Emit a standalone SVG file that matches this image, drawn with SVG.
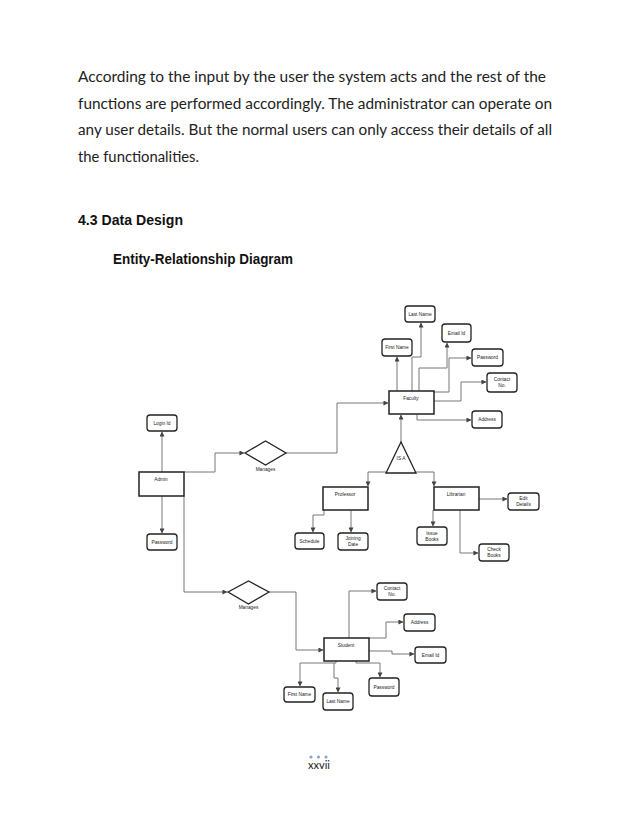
<svg xmlns="http://www.w3.org/2000/svg" width="638" height="826" viewBox="0 0 638 826">
<defs>
<marker id="arr" viewBox="0 0 6 6" refX="5.5" refY="3" markerWidth="5" markerHeight="5" orient="auto" markerUnits="userSpaceOnUse">
<path d="M0,0 L6,3 L0,6 z" fill="#444"/>
</marker>
</defs>
<style>
.body{font-family:Lato,"Noto Sans",sans-serif;font-size:15.5px;fill:#222}
.h{font-family:"Liberation Sans",Arial,sans-serif;font-weight:bold;font-size:15px;fill:#111}
.ent{fill:#fff;stroke:#222;stroke-width:1.5}
.att{fill:#fff;stroke:#222;stroke-width:1.3}
.rel{fill:#fff;stroke:#222;stroke-width:1.3}
.lbl{font-family:"Liberation Sans",Arial,sans-serif;font-size:4.8px;fill:#222;text-anchor:middle}
.c{fill:none;stroke:#777;stroke-width:1}
.ca{fill:none;stroke:#777;stroke-width:1;marker-end:url(#arr)}
</style>
<rect width="638" height="826" fill="#fff"/>

<g id="text">
<text class="body" x="78" y="82" textLength="468" lengthAdjust="spacingAndGlyphs">According to the input by the user the system acts and the rest of the</text>
<text class="body" x="78" y="109" textLength="474" lengthAdjust="spacingAndGlyphs">functions are performed accordingly. The administrator can operate on</text>
<text class="body" x="78" y="135" textLength="474" lengthAdjust="spacingAndGlyphs">any user details. But the normal users can only access their details of all</text>
<text class="body" x="78" y="162" textLength="121" lengthAdjust="spacingAndGlyphs">the functionalities.</text>
<text class="h" x="78" y="225" textLength="105" lengthAdjust="spacingAndGlyphs">4.3  Data Design</text>
<text class="h" x="113" y="264" textLength="180" lengthAdjust="spacingAndGlyphs">Entity-Relationship Diagram</text>
</g>

<g id="connectors">
<path class="ca" d="M397,391 V357"/>
<path class="ca" d="M412,391 V357 H421 V323"/>
<path class="ca" d="M419,391 V368 H447 V343"/>
<path class="ca" d="M434,392 H449 V358 H471"/>
<path class="ca" d="M434,401 H461 V382 H486"/>
<path class="ca" d="M417,414 V420 H471"/>
<path class="ca" d="M286,453 H337 V403 H388"/>
<path class="ca" d="M184,472 H215 V453 H244"/>
<path class="ca" d="M162,472 V432"/>
<path class="ca" d="M162,496 V533"/>
<path class="ca" d="M184,496 V592 H227"/>
<path class="ca" d="M269,592 H296 V650 H323"/>
<path class="ca" d="M401,442 V415"/>
<path class="ca" d="M386,472 H368 V486"/>
<path class="ca" d="M416,472 H434 V486"/>
<path class="ca" d="M324,510 V515 H313 V532"/>
<path class="ca" d="M351,510 V532"/>
<path class="ca" d="M433,510 V526"/>
<path class="ca" d="M460,510 V553 H478"/>
<path class="ca" d="M479,499 H507"/>
<path class="ca" d="M349,638 V591 H376"/>
<path class="ca" d="M369,638 H386 V622 H403"/>
<path class="ca" d="M369,651 H392 V654 H414"/>
<path class="ca" d="M336,661 V663 H300 V686"/>
<path class="ca" d="M334,663 V678 H338 V692"/>
<path class="ca" d="M356,661 V663 H380 V677"/>
</g>

<g id="faculty"><rect class="ent" x="389" y="391" width="45" height="23"/><text class="lbl" x="411" y="400">Faculty</text></g>
<g id="fac-lastname"><rect class="att" x="405" y="306" width="30" height="16" rx="3"/><text class="lbl" x="420" y="315.5">Last Name</text></g>
<g id="fac-firstname"><rect class="att" x="382" y="339" width="30" height="17" rx="3"/><text class="lbl" x="397" y="349">First Name</text></g>
<g id="fac-email"><rect class="att" x="442" y="324" width="29" height="18" rx="3"/><text class="lbl" x="456.5" y="334.5">Email Id</text></g>
<g id="fac-password"><rect class="att" x="472" y="349" width="31" height="17" rx="3"/><text class="lbl" x="487.5" y="359">Password</text></g>
<g id="fac-contact"><rect class="att" x="487" y="373" width="30" height="19" rx="3"/><text class="lbl" x="502" y="381">Contact</text><text class="lbl" x="502" y="387">No.</text></g>
<g id="fac-address"><rect class="att" x="472" y="411" width="30" height="17" rx="3"/><text class="lbl" x="487" y="421">Address</text></g>

<g id="manages1"><polygon class="rel" points="245,453 265.5,441 286,453 265.5,465"/><text class="lbl" x="265.5" y="471">Manages</text></g>
<g id="admin"><rect class="ent" x="139" y="472" width="45" height="24"/><text class="lbl" x="161" y="481">Admin</text></g>
<g id="admin-login"><rect class="att" x="147" y="415" width="30" height="16" rx="3"/><text class="lbl" x="162" y="424.5">Login Id</text></g>
<g id="admin-password"><rect class="att" x="147" y="534" width="30" height="16" rx="3"/><text class="lbl" x="162" y="543.5">Password</text></g>

<g id="isa"><polygon class="rel" points="401,442 386,473 416,473"/><text class="lbl" x="401" y="460">IS A</text></g>
<g id="professor"><rect class="ent" x="323" y="487" width="45" height="23"/><text class="lbl" x="345" y="496">Professor</text></g>
<g id="librarian"><rect class="ent" x="434" y="487" width="45" height="23"/><text class="lbl" x="456" y="496">Librarian</text></g>
<g id="prof-schedule"><rect class="att" x="295" y="533" width="29" height="16" rx="3"/><text class="lbl" x="309.5" y="542.5">Schedule</text></g>
<g id="prof-joining"><rect class="att" x="338" y="533" width="30" height="17" rx="3"/><text class="lbl" x="353" y="540">Joining</text><text class="lbl" x="353" y="546">Date</text></g>
<g id="lib-issue"><rect class="att" x="417" y="527" width="30" height="18" rx="3"/><text class="lbl" x="432" y="534.5">Issue</text><text class="lbl" x="432" y="540.5">Books</text></g>
<g id="lib-check"><rect class="att" x="479" y="544" width="30" height="17" rx="3"/><text class="lbl" x="494" y="551">Check</text><text class="lbl" x="494" y="557">Books</text></g>
<g id="lib-edit"><rect class="att" x="508" y="493" width="31" height="17" rx="3"/><text class="lbl" x="523.5" y="500">Edit</text><text class="lbl" x="523.5" y="506">Details</text></g>

<g id="manages2"><polygon class="rel" points="228,592 248.5,581 269,592 248.5,604"/><text class="lbl" x="248.5" y="609">Manages</text></g>
<g id="student"><rect class="ent" x="324" y="638" width="45" height="23"/><text class="lbl" x="346" y="647">Student</text></g>
<g id="stu-contact"><rect class="att" x="377" y="583" width="30" height="17" rx="3"/><text class="lbl" x="392" y="590">Contact</text><text class="lbl" x="392" y="596">No.</text></g>
<g id="stu-address"><rect class="att" x="404" y="614" width="31" height="17" rx="3"/><text class="lbl" x="419.5" y="624">Address</text></g>
<g id="stu-email"><rect class="att" x="415" y="647" width="31" height="16" rx="3"/><text class="lbl" x="430.5" y="656.5">Email Id</text></g>
<g id="stu-password"><rect class="att" x="369" y="678" width="30" height="18" rx="3"/><text class="lbl" x="384" y="688.5">Password</text></g>
<g id="stu-firstname"><rect class="att" x="284" y="687" width="31" height="15" rx="3"/><text class="lbl" x="299.5" y="696">First Name</text></g>
<g id="stu-lastname"><rect class="att" x="323" y="693" width="30" height="17" rx="3"/><text class="lbl" x="338" y="703">Last Name</text></g>

<g id="footer">
<circle cx="311" cy="757" r="1.6" fill="#8fa3c4"/>
<circle cx="318.5" cy="757" r="1.6" fill="#8fa3c4"/>
<circle cx="326" cy="757" r="1.6" fill="#8fa3c4"/>
<text x="319" y="769" text-anchor="middle" font-family="Lato,'Noto Sans',sans-serif" font-size="11" fill="#222">xxvii</text>
</g>
</svg>
